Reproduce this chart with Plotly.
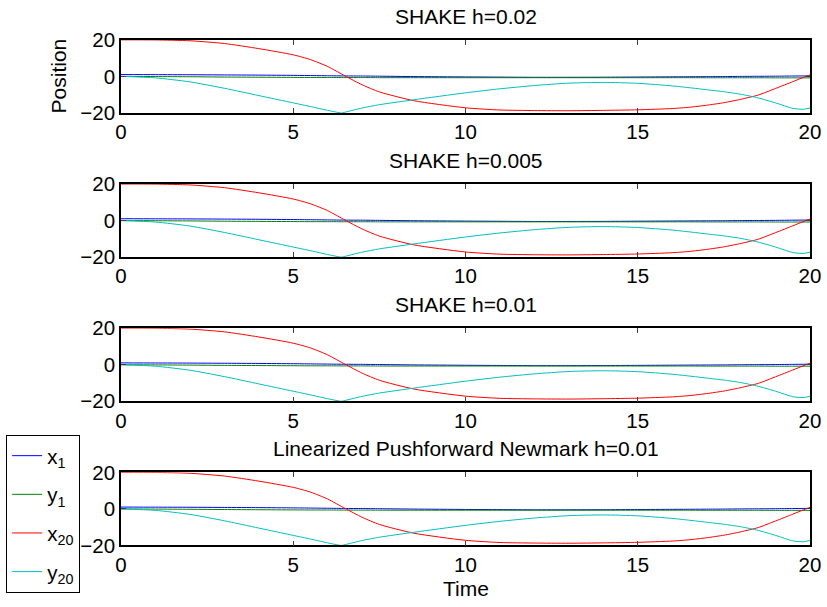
import plotly.graph_objects as go

# The page is photographed with an 8px body margin inside a slightly larger
# viewport that is then scaled to 827x607; positions below are written in
# target-picture pixels and mapped into figure coordinates.
OFF = 8
SX, SY = 843 / 827, 623 / 607
W, H = 835, 607

# ---- data ----
time = [0, 1, 2, 3, 4, 5, 5.5, 6, 6.5, 7, 7.5, 8.5, 10, 11, 12, 13, 14, 15,
        16, 16.5, 17, 17.5, 18, 18.5, 19, 19.5, 19.8, 20]
x1 = [1.0, 0.95, 0.9, 0.8, 0.7, 0.55, 0.45, 0.35, 0.25, 0.2, 0.1, -0.1, -0.3, -0.4,
      -0.5, -0.5, -0.45, -0.35, -0.25, -0.2, -0.15, -0.1, 0.0, 0.05, 0.1, 0.2, 0.25, 0.3]
y1 = [0.0, -0.1, -0.2, -0.35, -0.45, -0.55, -0.6, -0.6, -0.65, -0.65, -0.7, -0.7,
      -0.7, -0.7, -0.7, -0.7, -0.7, -0.7, -0.7, -0.7, -0.75, -0.75, -0.75, -0.75,
      -0.8, -0.8, -0.8, -0.8]
x20 = [20, 19.95, 19.5, 18.0, 15.2, 11.8, 9.2, 5.4, 0.3, -4.6, -8.5, -13.3, -17.2,
       -18.4, -18.7, -18.8, -18.6, -18.3, -17.6, -16.9, -15.8, -14.4, -12.5, -10.2,
       -6.6, -2.9, -0.6, 0.8]
y20 = [0, -0.8, -3.0, -6.5, -10.5, -14.5, -16.5, -18.6, -19.6, -17.3, -15.5, -12.8,
       -9.0, -6.8, -5.0, -3.7, -3.3, -3.8, -5.2, -6.2, -7.3, -8.4, -9.8, -11.8,
       -14.5, -17.5, -18.0, -17.3]
y20_min_t, y20_min_v = 6.4, -20.0

panel_titles = ["SHAKE h=0.02", "SHAKE h=0.005", "SHAKE h=0.01",
                "Linearized Pushforward Newmark h=0.01"]
series_names = ["x<sub>1</sub>", "y<sub>1</sub>", "x<sub>20</sub>", "y<sub>20</sub>"]
series_colors = ["#0000ff", "#008000", "#ff0000", "#00bfbf"]
x_ticks = [0, 5, 10, 15, 20]
y_ticks = [-20, 0, 20]

# insert the sharp minimum of y20 into its own time axis
t_y20 = sorted(time + [y20_min_t])
v_y20 = [dict(zip(time, y20)).get(t, y20_min_v) for t in t_y20]
series_x = [time, time, time, t_y20]
series_values = [x1, y1, x20, v_y20]

# ---- layout geometry (target-picture pixels) ----
x_left, x_right = 123, 813
panel_tops = [36, 182, 328, 474]
panel_h = 74

def px(p):
    return (p * SX - OFF) / W

def py(p):
    return 1 - (p * SY - OFF) / H

fig = go.Figure()
font = "Liberation Sans, Arial, sans-serif"
FS = 20.5
FT = 21

for i in range(4):
    ax = "" if i == 0 else str(i + 1)
    for j in range(4):
        fig.add_trace(go.Scatter(
            x=series_x[j], y=series_values[j], mode="lines",
            line=dict(color=series_colors[j], width=1, shape="spline", smoothing=0.6),
            name=series_names[j], legendgroup=f"g{j}",
            showlegend=(i == 0),
            xaxis="x" + ax, yaxis="y" + ax))
    top = panel_tops[i]
    axis_common = dict(showgrid=False, zeroline=False, showline=True,
                       linecolor="black", linewidth=1.5, mirror="allticks",
                       ticks="inside", ticklen=5, tickcolor="#404040",
                       ticklabeloverflow="allow",
                       tickfont=dict(size=FS, color="black", family=font))
    fig.layout["xaxis" + ax] = dict(
        axis_common, domain=[px(x_left), px(x_right)], range=[0, 20],
        tickvals=x_ticks, anchor="y" + ax)
    fig.layout["yaxis" + ax] = dict(
        axis_common, domain=[py(top + panel_h), py(top)], range=[-20, 20],
        tickvals=y_ticks, anchor="x" + ax)
    fig.add_annotation(text=panel_titles[i], xref="paper", yref="paper",
                       x=px((x_left + x_right) / 2), y=py(top - 24),
                       xanchor="center", yanchor="middle", showarrow=False,
                       font=dict(size=FT, color="black", family=font))

fig.add_annotation(text="Position", xref="paper", yref="paper",
                   x=px(60), y=py(panel_tops[0] + panel_h / 2), textangle=-90,
                   xanchor="center", yanchor="middle", showarrow=False,
                   font=dict(size=FT, color="black", family=font))
fig.add_annotation(text="Time", xref="paper", yref="paper",
                   x=px((x_left + x_right) / 2), y=py(592),
                   xanchor="center", yanchor="middle", showarrow=False,
                   font=dict(size=FT, color="black", family=font))

fig.update_layout(
    width=W, height=H, autosize=False,
    margin=dict(l=0, r=0, t=0, b=0),
    paper_bgcolor="white", plot_bgcolor="white",
    legend=dict(x=px(8), y=py(436), xanchor="left", yanchor="top",
                bgcolor="white", bordercolor="black", borderwidth=1,
                font=dict(size=FS, color="black", family=font),
                tracegroupgap=9),
)

fig.write_html("out.html")
